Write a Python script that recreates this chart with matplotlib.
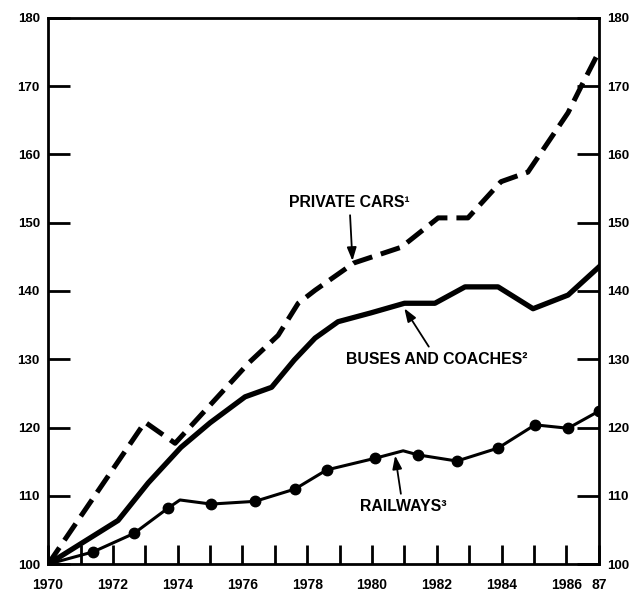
import numpy as np
import matplotlib.pyplot as plt

plt.rcParams['font.family'] = ['Liberation Sans Narrow', 'Liberation Sans', 'DejaVu Sans']

# indices (1970 = 100)
cars_years = [1970.0, 1972.99, 1973.92, 1976.2, 1977.1, 1977.72, 1978.24, 1979.44,
              1980.9, 1982.04, 1982.96, 1983.98, 1984.81, 1986.05, 1986.45, 1987.0]
cars_vals = [100, 120.8, 117.7, 129.5, 133.5, 138.2, 140.1, 144.1,
             146.4, 150.7, 150.7, 156.0, 157.4, 166.1, 169.9, 175.0]

bus_years = [1970.0, 1972.16, 1973.09, 1974.1, 1975.0, 1976.08, 1976.9, 1977.6,
             1978.24, 1978.95, 1979.97, 1981.0, 1981.94, 1982.87, 1983.89,
             1984.97, 1986.05, 1987.0]
bus_vals = [100, 106.4, 111.9, 117.1, 120.7, 124.5, 125.9, 129.9,
            133.1, 135.5, 136.8, 138.2, 138.2, 140.6, 140.6,
            137.4, 139.4, 143.5]

rail_years = [1970.0, 1971.39, 1972.65, 1973.7, 1974.07, 1975.03, 1976.39, 1977.62,
              1978.6, 1980.09, 1980.96, 1981.42, 1982.62, 1983.89, 1985.03,
              1986.05, 1987.0]
rail_vals = [100, 101.8, 104.5, 108.2, 109.4, 108.8, 109.2, 111.0,
             113.8, 115.5, 116.6, 116.0, 115.1, 117.0, 120.4,
             119.9, 122.4]
rail_marks = [0, 1, 2, 3, 5, 6, 7, 8, 9, 11, 12, 13, 14, 15, 16]

year_ticks = list(range(1970, 1988))
year_labels = ['1970', '', '1972', '', '1974', '', '1976', '', '1978', '',
               '1980', '', '1982', '', '1984', '', '1986', '87']
y_ticks = [100, 110, 120, 130, 140, 150, 160, 170, 180]

fig = plt.figure(figsize=(6.33, 5.92), dpi=100)
ax = fig.add_axes([0.076, 0.047, 0.87, 0.923])

ax.plot(cars_years, cars_vals, color='black', lw=3.6, dashes=(4, 1.8),
        solid_joinstyle='round')
ax.plot(bus_years, bus_vals, color='black', lw=3.8, solid_joinstyle='round')
ax.plot(rail_years, rail_vals, color='black', lw=2.2, marker='o', markersize=7.5,
        markevery=rail_marks)

ax.set_xlim(1970, 1987)
ax.set_ylim(100, 180)

ax.set_xticks(year_ticks)
ax.set_xticklabels(year_labels)
ax.set_yticks(y_ticks)
ax.tick_params(axis='x', direction='in', length=14, width=2, pad=10, labelsize=10)
ax.tick_params(axis='y', direction='in', length=16, width=2, labelsize=9.5,
               left=True, right=True, labelleft=True, labelright=True, pad=6)
for t in ax.get_yticklabels():
    t.set_fontweight('bold')
for t in ax.get_xticklabels():
    t.set_fontweight('bold')
for s in ax.spines.values():
    s.set_linewidth(2)

arrow = dict(arrowstyle='-|>,head_length=0.7,head_width=0.25', color='black', lw=1.3)
ax.annotate('PRIVATE CARS¹', xy=(1979.4, 144.0), xytext=(1979.3, 153.0),
            ha='center', va='center', fontsize=11.4, fontweight='bold',
            arrowprops=arrow)
ax.annotate('BUSES AND COACHES²', xy=(1980.95, 137.8), xytext=(1982.0, 130.0),
            ha='center', va='center', fontsize=11.4, fontweight='bold',
            arrowprops=arrow)
ax.annotate('RAILWAYS³', xy=(1980.7, 116.3), xytext=(1980.95, 108.4),
            ha='center', va='center', fontsize=11.4, fontweight='bold',
            arrowprops=arrow)

fig.savefig('out.png', dpi=100)
